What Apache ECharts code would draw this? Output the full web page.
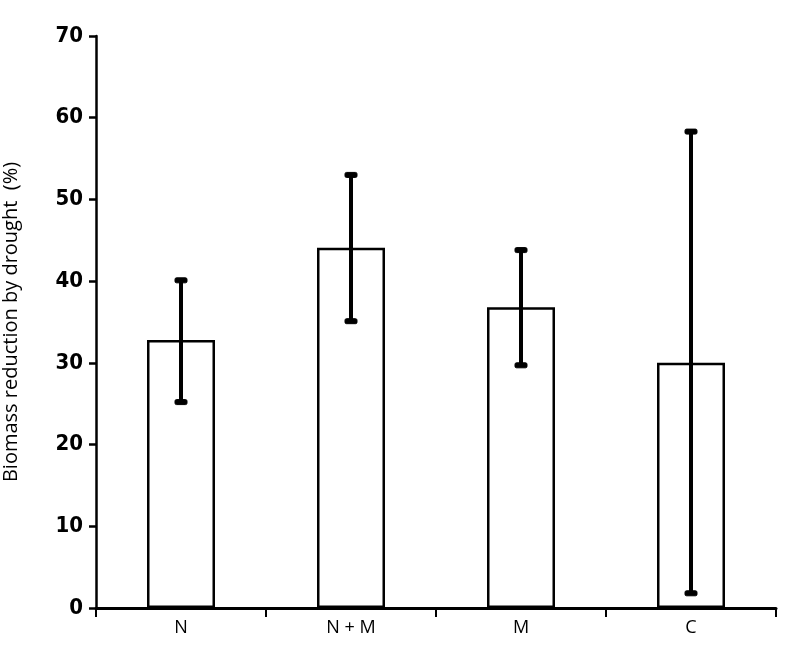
<!DOCTYPE html>
<html>
<head>
<meta charset="utf-8">
<script src="https://cdn.jsdelivr.net/npm/echarts@6/dist/echarts.min.js"></script>
<style>
html, body { margin: 0; padding: 0; background: #fff; }
#main { width: 786px; height: 668px; }
</style>
</head>
<body>
<div id="main"></div>
<script>
var categories = ['N', 'N + M', 'M', 'C'];
var means = [32.8, 44.1, 36.8, 30.0];
var errLow = [25.2, 35.1, 29.7, 1.8];
var errHigh = [40.1, 53.0, 43.8, 58.3];

var chart = echarts.init(document.getElementById('main'));

var errData = categories.map(function (c, i) {
    return [i, errLow[i], errHigh[i]];
});

var option = {
    animation: false,
    grid: {
        left: 96,
        right: 10,
        top: 36,
        bottom: 60,
        containLabel: false,
        outerBoundsMode: 'none'
    },
    xAxis: {
        type: 'category',
        data: categories,
        axisLine: { lineStyle: { color: '#000', width: 3 } },
        axisTick: {
            show: true,
            inside: false,
            length: 9,
            lineStyle: { color: '#000', width: 2 }
        },
        axisLabel: {
            color: '#000',
            fontFamily: 'Open Sans',
            fontSize: 18,
            margin: 11
        }
    },
    yAxis: {
        type: 'value',
        min: 0,
        max: 70,
        interval: 10,
        name: 'Biomass reduction by drought  (%)',
        nameLocation: 'middle',
        nameGap: 75,
        nameTextStyle: {
            color: '#000',
            fontFamily: 'Open Sans',
            fontSize: 20
        },
        splitLine: { show: false },
        axisLine: { show: true, lineStyle: { color: '#000', width: 2.5 } },
        axisTick: { show: true, length: 7, lineStyle: { color: '#000', width: 2.5 } },
        axisLabel: {
            color: '#000',
            fontFamily: 'DejaVu Sans Condensed',
            fontWeight: 'bold',
            fontSize: 22,
            margin: 13
        }
    },
    series: [
        {
            name: 'mean',
            type: 'bar',
            data: means,
            barWidth: 68,
            itemStyle: {
                color: '#fff',
                borderColor: '#000',
                borderWidth: 2.5
            },
            z: 2
        },
        {
            name: 'error',
            type: 'custom',
            data: errData,
            z: 5,
            renderItem: function (params, api) {
                var x = api.value(0);
                var lo = api.coord([x, api.value(1)]);
                var hi = api.coord([x, api.value(2)]);
                var capW = 12;
                var capH = 5;
                var style = { fill: '#000', stroke: '#000' };
                return {
                    type: 'group',
                    children: [
                        {
                            type: 'line',
                            shape: { x1: hi[0], y1: hi[1], x2: lo[0], y2: lo[1] },
                            style: { stroke: '#000', lineWidth: 4 }
                        },
                        {
                            type: 'rect',
                            shape: { x: hi[0] - capW / 2, y: hi[1] - capH / 2, width: capW, height: capH, r: 1.5 },
                            style: style
                        },
                        {
                            type: 'rect',
                            shape: { x: lo[0] - capW / 2, y: lo[1] - capH / 2, width: capW, height: capH, r: 1.5 },
                            style: style
                        }
                    ]
                };
            }
        }
    ]
};

chart.setOption(option);
</script>
</body>
</html>
